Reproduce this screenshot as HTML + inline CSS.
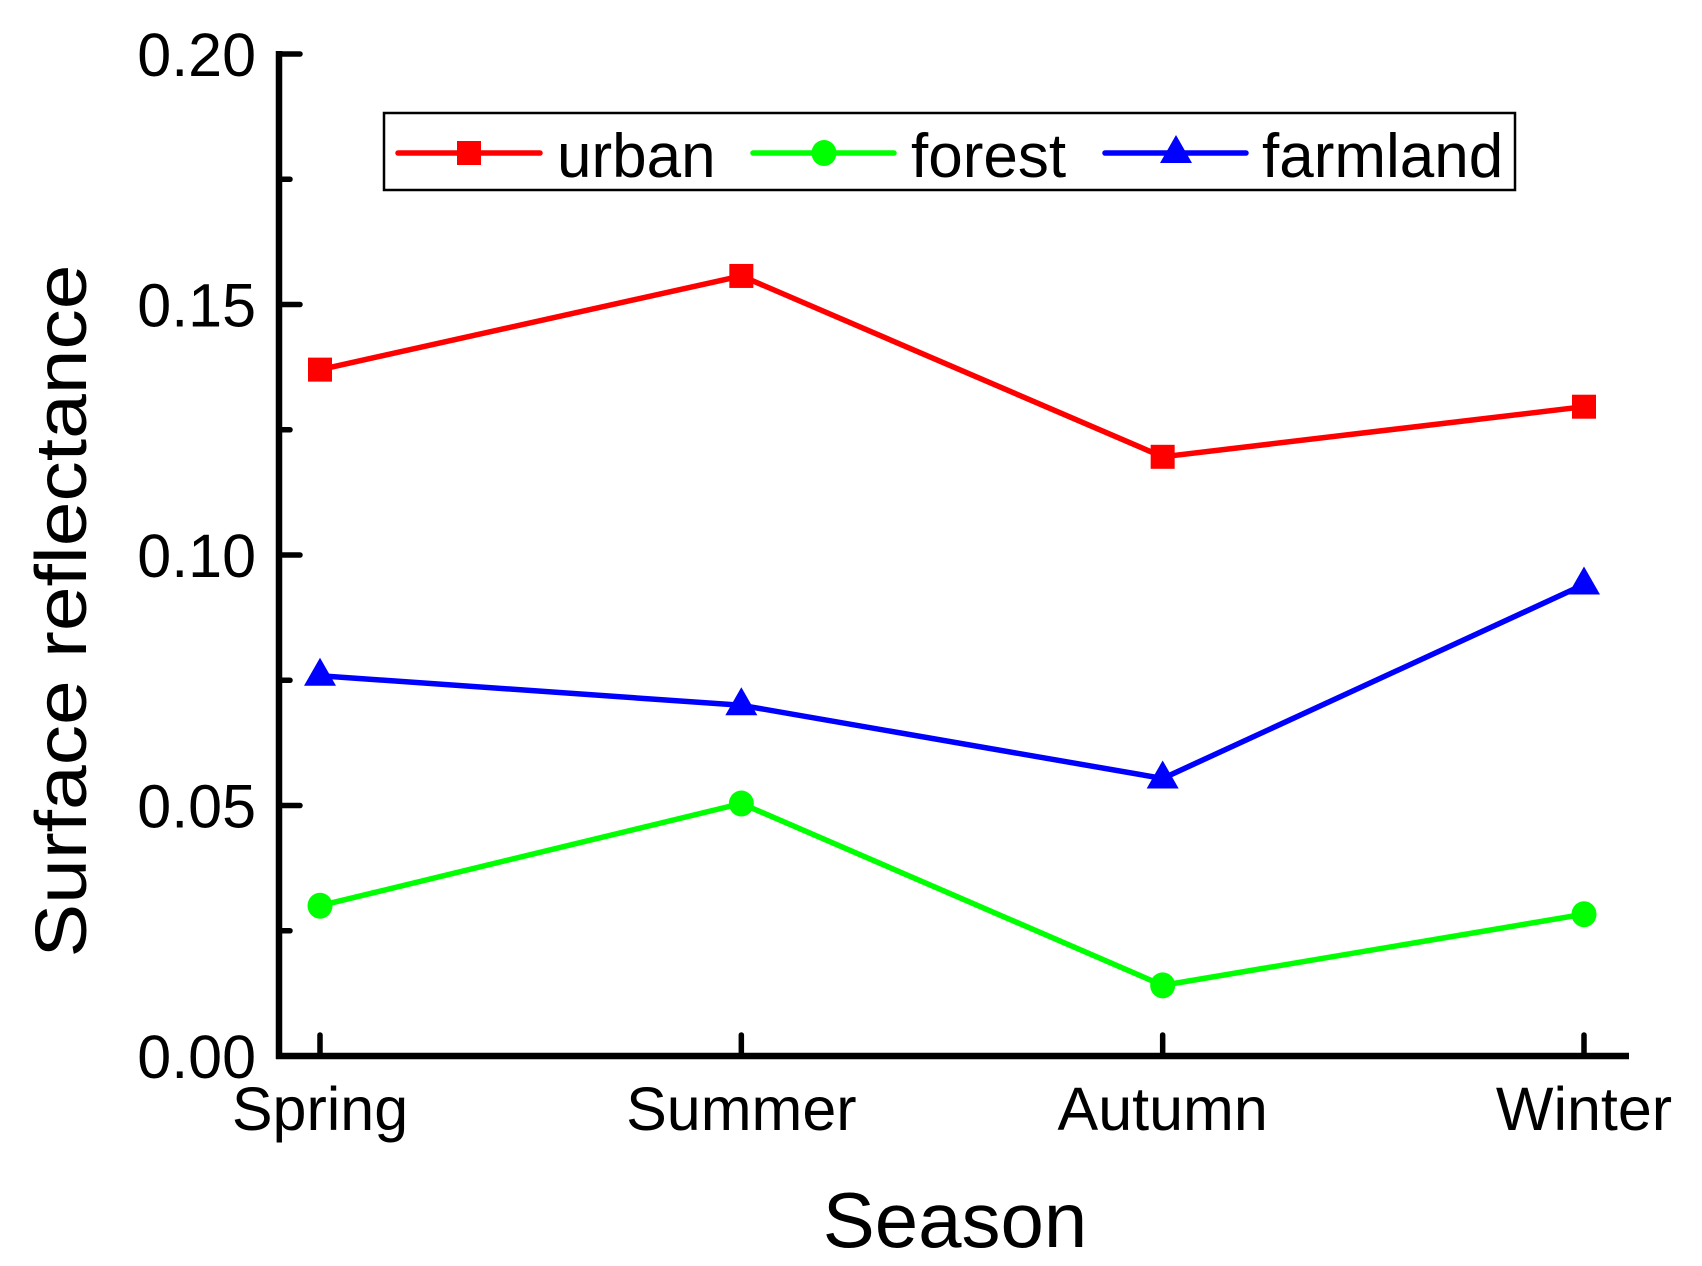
<!DOCTYPE html>
<html><head><meta charset="utf-8"><style>
html,body{margin:0;padding:0;background:#fff;}
svg{display:block;font-family:"Liberation Sans",Arial,sans-serif;}
</style></head><body>
<svg id="chart" width="1702" height="1266" viewBox="0 0 1702 1266" xmlns="http://www.w3.org/2000/svg">
<g id="axes"></g>
<g id="series"></g>
<g id="legend">
  <rect x="384" y="113" width="1131" height="77" fill="#fff" stroke="#000" stroke-width="2.5"/>
</g>
<text x="60" y="611" font-size="72" text-anchor="middle" transform="rotate(-90 60 611) translate(0 26)" textLength="693" lengthAdjust="spacingAndGlyphs">Surface reflectance</text>
<text x="955" y="1247" font-size="78" text-anchor="middle">Season</text>
</svg>
<script>
const categories = ["Spring","Summer","Autumn","Winter"];
const urban = [0.137, 0.1557, 0.1196, 0.1296];
const forest = [0.030, 0.0504, 0.0141, 0.0283];
const farmland = [0.0759, 0.070, 0.0554, 0.0941];
const yTicks = [0, 0.05, 0.10, 0.15, 0.20];
const yTickLabels = ["0.00","0.05","0.10","0.15","0.20"];
const yMinorTicks = [0.025, 0.075, 0.125, 0.175];
const seriesNames = ["urban","forest","farmland"];

const NS = "http://www.w3.org/2000/svg";
const X0 = 279, XEND = 1629, Y0 = 1056, Y1 = 54;
const XFIRST = 320, XLAST = 1584;
function xPos(i){ return XFIRST + i * (XLAST-XFIRST)/(categories.length-1); }
function yPos(v){ return Y0 - (v/0.2)*(Y0-Y1); }
function mk(tag, attrs, parent){ const e=document.createElementNS(NS,tag); for(const k in attrs) e.setAttribute(k,attrs[k]); parent.appendChild(e); return e; }

const axes = document.getElementById('axes');
let a = mk('line',{x1:X0,y1:Y1-3,x2:X0,y2:Y0+3,stroke:'#000','stroke-width':6.5},axes);


a = mk('line',{x1:X0-3,y1:Y0,x2:XEND,y2:Y0,stroke:'#000','stroke-width':6.5},axes);


yTicks.forEach((v,i)=>{
  const t = mk('line',{x1:X0,y1:yPos(v),x2:X0+21,y2:yPos(v),stroke:'#000','stroke-width':5.5,'stroke-linecap':'round'},axes);
  
  
  const l = mk('text',{x:256,y:yPos(v)+22,'font-size':61,'text-anchor':'end'},axes);
  l.textContent = yTickLabels[i];
  
  
});
yMinorTicks.forEach(v=>{
  const t = mk('line',{x1:X0,y1:yPos(v),x2:X0+11,y2:yPos(v),stroke:'#000','stroke-width':5.5,'stroke-linecap':'round'},axes);
  
  
});
categories.forEach((c,i)=>{
  const t = mk('line',{x1:xPos(i),y1:Y0,x2:xPos(i),y2:Y0-21,stroke:'#000','stroke-width':5.5,'stroke-linecap':'round'},axes);
  
  
  const l = mk('text',{x:xPos(i),y:1130,'font-size':61,'text-anchor':'middle'},axes);
  l.textContent = c;
  
  
});

function marker(type,x,y,color,parent){
  let m;
  if(type==='square') m = mk('rect',{x:x-12,y:y-12,width:24,height:24,fill:color},parent);
  else if(type==='circle') m = mk('ellipse',{cx:x,cy:y,rx:12.5,ry:13,fill:color},parent);
  else m = mk('polygon',{points:`${x},${y-18} ${x-16},${y+10} ${x+16},${y+10}`,fill:color},parent);
  return m;
}
const seriesData = [urban, forest, farmland];
const colors = ["#ff0000","#00ff00","#0000ff"];
const shapes = ["square","circle","triangle"];
const sg = document.getElementById('series');
seriesData.forEach((vals,s)=>{
  const g = mk('g',{},sg);
  
  
  const pts = vals.map((v,i)=>xPos(i)+','+yPos(v)).join(' ');
  const pl = mk('polyline',{points:pts,fill:'none',stroke:colors[s],'stroke-width':5.5,'stroke-linejoin':'round'},g);
  
  
  vals.forEach((v,i)=>{
    const m = marker(shapes[s],xPos(i),yPos(v),colors[s],g);
    
    
  });
});

const lg = document.getElementById('legend');
const legX = [[398,540,469,557],[753,894,824,911],[1105,1246,1176,1262]];
seriesNames.forEach((n,s)=>{
  const g = mk('g',{},lg);
  
  
  mk('line',{x1:legX[s][0],y1:153,x2:legX[s][1],y2:153,stroke:colors[s],'stroke-width':5.5,'stroke-linecap':'round'},g);
  marker(shapes[s],legX[s][2],153,colors[s],g);
  const t = mk('text',{x:legX[s][3],y:177,'font-size':62},g);
  t.textContent = n;
});
</script>
</body></html>
